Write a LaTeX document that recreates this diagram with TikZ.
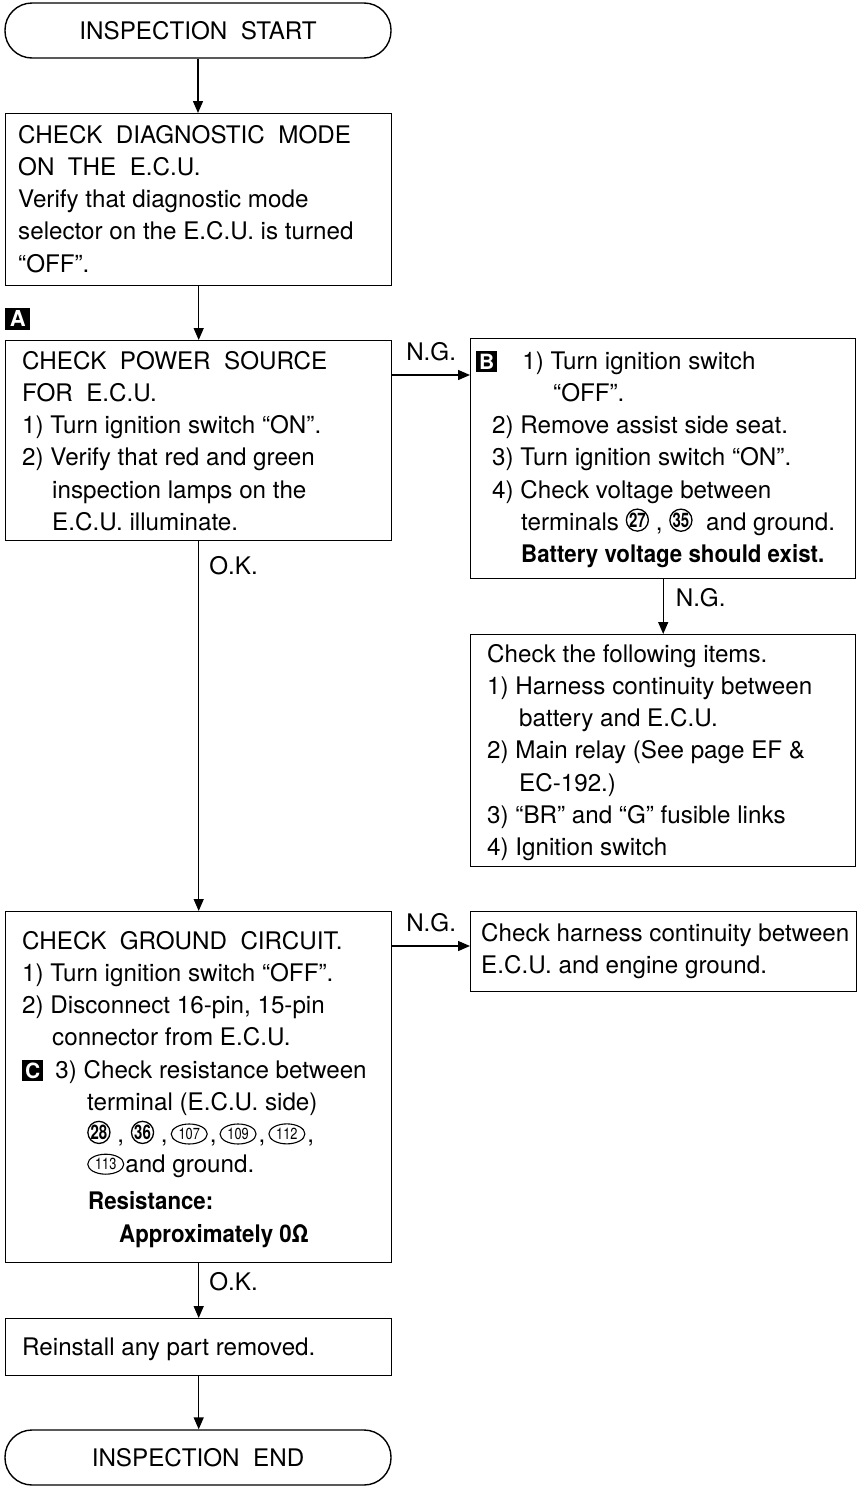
\documentclass[tikz,border=0pt]{standalone}
\usepackage{fontspec}
\setmainfont{TeX Gyre Heros}
\usepackage{graphicx}
\usepackage{tikz}
\usetikzlibrary{positioning}
\usetikzlibrary{shapes.geometric}
\usetikzlibrary{arrows.meta}
\usepackage{xcolor}

\newcommand{\bodyfont}{\fontsize{24.2}{32.2}\selectfont}
\newcommand{\marker}[1]{{\setlength{\fboxsep}{3pt}\colorbox{black}{\textcolor{white}{\bfseries\fontsize{21}{21}\selectfont #1}}}}
\newcommand{\cnum}[1]{\tikz[baseline={([yshift=-3pt]cn.base)}]\node[circle,draw,line width=1.3pt,inner sep=0pt,minimum size=22pt,anchor=center,font=\bfseries\fontsize{20}{20}\selectfont] (cn) {\scalebox{0.75}[1]{#1}};}
\newcommand{\onum}[1]{\tikz[baseline={([yshift=-3pt]on.base)}]\node[ellipse,draw,line width=1.1pt,inner sep=0pt,minimum width=36pt,minimum height=20pt,anchor=center,font=\fontsize{16}{16}\selectfont] (on) {\scalebox{0.8}[1]{#1}};}
\newcommand{\ind}{\hspace*{30pt}}
\newcommand{\cma}{\hspace{2pt},\hspace{3pt}}
\newcommand{\bd}[1]{\scalebox{0.92}[1]{\bfseries #1}}

\begin{document}
\begin{tikzpicture}[x=1pt,y=-1pt,
    frame/.style={draw, line width=1.4pt, minimum width=386pt, inner sep=0pt, anchor=north west},
    terminal/.style={draw, line width=1.4pt, rounded corners=27pt, minimum width=386pt, minimum height=55pt, font=\bodyfont},
    txt/.style={anchor=north west, inner sep=0pt, align=left, font=\bodyfont},
    lbl/.style={inner sep=0pt, anchor=base, font=\bodyfont},
    arr/.style={line width=1.4pt, -{Triangle[length=12pt,width=10pt]}}]
    \useasboundingbox (0,0) rectangle (858,1486);

    % Start
    \node[terminal] (start) at (198,30.5) {INSPECTION~ START};

    % Diagnostic mode
    \node[frame, minimum height=172pt] (diag) at (5,113) {};
    \node[txt] (diagtxt) at ([xshift=13pt,yshift=-7.6pt]diag.north west) {\strut CHECK~ DIAGNOSTIC~ MODE\\
        ON~ THE~ E.C.U.\\
        Verify that diagnostic mode\\
        selector on the E.C.U. is turned\\
        ``OFF''.};

    % Power source
    \node[frame, minimum height=200pt] (power) at (5,340) {};
    \node[txt] (powertxt) at ([xshift=17pt,yshift=-6.6pt]power.north west) {\strut CHECK~ POWER~ SOURCE\\
        FOR~ E.C.U.\\
        1) Turn ignition switch ``ON''.\\
        2) Verify that red and green\\
        \ind inspection lamps on the\\
        \ind E.C.U. illuminate.};
    \node[fill=black, text=white, font=\bfseries\fontsize{22}{22}\selectfont, inner sep=0pt,
        minimum width=25pt, minimum height=22pt, anchor=south west] (marka) at ([yshift=10pt]power.north west) {A};

    % Battery voltage
    \node[frame, minimum width=385pt, minimum height=240pt] (bcheck) at (470,338) {};
    \node[txt] (bchecktxt) at ([xshift=6pt,yshift=-8.6pt]bcheck.north west) {\strut\marker{B}\hspace{25pt}1) Turn ignition switch\\
        \hspace*{77pt}``OFF''.\\
        \hspace*{16pt}2) Remove assist side seat.\\
        \hspace*{16pt}3) Turn ignition switch ``ON''.\\
        \hspace*{16pt}4) Check voltage between\\
        \hspace*{45pt}terminals \cnum{27} , \cnum{35}\ \ and ground.\\
        \hspace*{45pt}\bd{Battery voltage should exist.}};

    % Items
    \node[frame, minimum width=385pt, minimum height=232pt] (items) at (470,634) {};
    \node[txt] (itemstxt) at ([xshift=17pt,yshift=-5.6pt]items.north west) {\strut Check the following items.\\
        1) Harness continuity between\\
        \hspace*{32pt}battery and E.C.U.\\
        2) Main relay (See page EF \&\\
        \hspace*{32pt}EC-192.)\\
        3) ``BR'' and ``G'' fusible links\\
        4) Ignition switch};

    % Ground circuit
    \node[frame, minimum height=351pt] (ground) at (5,911) {};
    \node[txt] (groundtxt) at ([xshift=17pt,yshift=-15.6pt]ground.north west) {\strut CHECK~ GROUND~ CIRCUIT.\\
        1) Turn ignition switch ``OFF''.\\
        2) Disconnect 16-pin, 15-pin\\
        \ind connector from E.C.U.\\
        \marker{C}\hspace{12pt}3) Check resistance between\\
        \hspace*{65pt}terminal (E.C.U. side)\\
        \hspace*{65pt}\cnum{28} , \cnum{36} ,\hspace{3pt}\onum{107}\cma\onum{109}\cma\onum{112}\cma\\[-2pt]
        \hspace*{65pt}\onum{113}\hspace{1pt}and ground.\\[5pt]
        \hspace*{66pt}\bd{Resistance:}\\
        \hspace*{97pt}\bd{Approximately 0Ω}};

    % Harness
    \node[frame, minimum width=386pt, minimum height=80pt] (harness) at (470,911) {};
    \node[txt] (harnesstxt) at ([xshift=11pt,yshift=-7.6pt]harness.north west) {\strut Check harness continuity between\\
        E.C.U. and engine ground.};

    % Reinstall
    \node[frame, minimum height=57pt] (reinst) at (5,1318) {};
    \node[txt] (reinsttxt) at ([xshift=17pt,yshift=-14.6pt]reinst.north west) {\strut Reinstall any part removed.};

    % End
    \node[terminal] (finish) at (198,1457.5) {INSPECTION~ END};

    % Arrows
    \draw[arr] (start.south) -- (start.south |- diag.north);
    \draw[arr] (diag.south) -- (diag.south |- power.north);
    \draw[arr] ([yshift=-35pt]power.north east) -- ([yshift=-35pt]power.north east -| bcheck.west)
        node[lbl, midway, yshift=15pt] {N.G.};
    \draw[arr] (bcheck.south) -- (bcheck.south |- items.north)
        node[lbl, midway, anchor=base west, xshift=12pt] {N.G.};
    \draw[arr] (power.south) -- (power.south |- ground.north)
        node[lbl, pos=0.09, anchor=base west, xshift=10pt] {O.K.};
    \draw[arr] ([yshift=-35pt]ground.north east) -- ([yshift=-35pt]ground.north east -| harness.west)
        node[lbl, midway, yshift=15pt] {N.G.};
    \draw[arr] (ground.south) -- (ground.south |- reinst.north)
        node[lbl, midway, anchor=base west, xshift=10pt] {O.K.};
    \draw[arr] (reinst.south) -- (reinst.south |- finish.north);
\end{tikzpicture}
\end{document}
